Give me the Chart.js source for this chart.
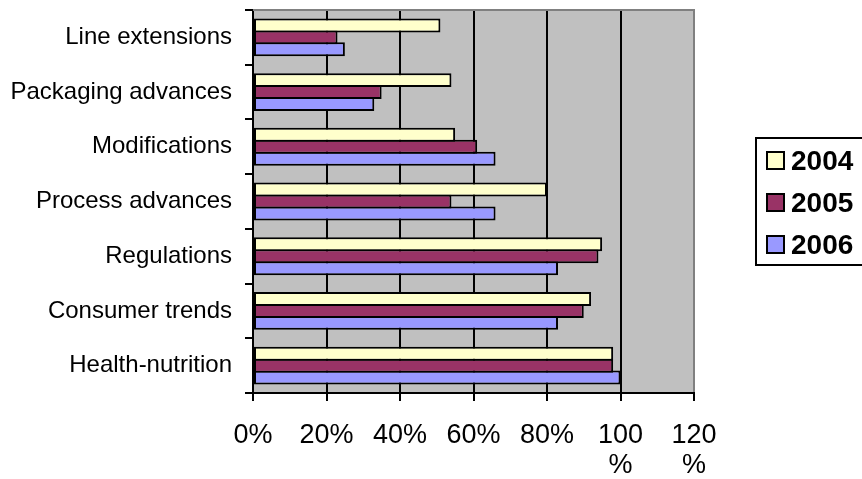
<!DOCTYPE html>
<html>
<head>
<meta charset="utf-8">
<script src="https://cdn.jsdelivr.net/npm/chart.js@4"></script>
<style>
  html, body { margin: 0; padding: 0; background: #ffffff; }
  #wrap { width: 862px; height: 479px; position: relative; }
</style>
</head>
<body>
<div id="wrap"><canvas id="chart" width="862" height="479"></canvas></div>
<script>
// Drivers of new product development, share of respondents (%)
const categories = [
  'Line extensions',
  'Packaging advances',
  'Modifications',
  'Process advances',
  'Regulations',
  'Consumer trends',
  'Health-nutrition'
];
const seriesNames = ['2004', '2005', '2006'];
const values2004 = [51, 54, 55, 80, 95, 92, 98];
const values2005 = [23, 35, 61, 54, 94, 90, 98];
const values2006 = [25, 33, 66, 66, 83, 83, 100];
const xTicks = [0, 20, 40, 60, 80, 100, 120];

const seriesColors = ['#FFFFCC', '#993366', '#9999FF'];
const FONT = "'Liberation Sans', Arial, sans-serif";

// Grey plot background plus the grey top frame line
const plotFrame = {
  id: 'plotFrame',
  beforeDraw(chart) {
    const { ctx, chartArea: a } = chart;
    ctx.save();
    ctx.fillStyle = '#C0C0C0';
    ctx.fillRect(a.left, a.top, a.right - a.left, a.bottom - a.top);
    ctx.restore();
  },
  afterDraw(chart) {
    const { ctx, chartArea: a } = chart;
    ctx.save();
    ctx.strokeStyle = '#808080';
    ctx.lineWidth = 2;
    ctx.beginPath();
    ctx.moveTo(a.left, a.top);
    ctx.lineTo(a.right + 1, a.top);
    ctx.stroke();
    ctx.restore();
  }
};

// Boxed legend to the right of the plot
const boxedLegend = {
  id: 'boxedLegend',
  afterDraw(chart) {
    const { ctx } = chart;
    const left = 756, top = 138, bottom = 265, right = 866;
    const firstRow = 161, rowGap = 42;
    ctx.save();
    ctx.strokeStyle = '#000';
    ctx.lineWidth = 2;
    ctx.strokeRect(left, top, right - left, bottom - top);
    ctx.font = 'bold 28px ' + FONT;
    ctx.textBaseline = 'middle';
    ctx.textAlign = 'left';
    chart.data.datasets.forEach((ds, i) => {
      const y = firstRow + i * rowGap;
      ctx.fillStyle = ds.backgroundColor;
      ctx.fillRect(767, y - 9, 17, 17);
      ctx.strokeStyle = '#000';
      ctx.lineWidth = 2;
      ctx.strokeRect(767, y - 9, 17, 17);
      ctx.fillStyle = '#000';
      ctx.fillText(ds.label, 791, y + 1);
    });
    ctx.restore();
  }
};

const seriesData = [values2004, values2005, values2006];

new Chart(document.getElementById('chart'), {
  type: 'bar',
  data: {
    labels: categories,
    datasets: seriesNames.map((name, i) => ({
      label: name,
      data: seriesData[i],
      backgroundColor: seriesColors[i],
      borderColor: '#000000',
      borderWidth: 2,
      borderSkipped: false,
      categoryPercentage: 0.655,
      barPercentage: 1.17
    }))
  },
  options: {
    indexAxis: 'y',
    responsive: false,
    animation: false,
    layout: { padding: { top: 10, right: 168, left: 0, bottom: 0 } },
    plugins: {
      legend: { display: false },
      tooltip: { enabled: false }
    },
    scales: {
      x: {
        min: 0,
        max: 120,
        afterBuildTicks(scale) {
          scale.ticks = xTicks.map(v => ({ value: v }));
        },
        afterFit(scale) {
          scale.height = 86;
          scale.paddingLeft = 0;
          scale.paddingRight = 0;
        },
        border: { display: true, color: '#000', width: 2 },
        grid: {
          color: ctx => (ctx.tick && ctx.tick.value === 120 ? '#808080' : '#000'),
          lineWidth: 2,
          tickColor: '#000',
          tickLength: 8
        },
        ticks: {
          color: '#000',
          padding: 20,
          maxRotation: 0,
          autoSkip: false,
          font: { family: FONT, size: 27, lineHeight: 30 / 27 },
          callback: v => (v >= 100 ? [String(v), '%'] : v + '%')
        }
      },
      y: {
        afterFit(scale) {
          scale.width = 253;
          scale.paddingTop = 0;
          scale.paddingBottom = 0;
        },
        border: { display: true, color: '#000', width: 2 },
        grid: {
          offset: true,
          drawOnChartArea: false,
          color: '#000',
          lineWidth: 2,
          tickLength: 8
        },
        ticks: {
          color: '#000',
          padding: 13,
          autoSkip: false,
          font: { family: FONT, size: 24 }
        }
      }
    }
  },
  plugins: [plotFrame, boxedLegend]
});
</script>
</body>
</html>
